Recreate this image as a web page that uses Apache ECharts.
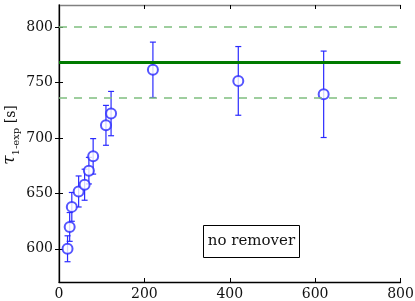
<!DOCTYPE html>
<html>
<head>
<meta charset="utf-8">
<script src="https://cdn.jsdelivr.net/npm/echarts@6/dist/echarts.min.js"></script>
<style>html,body{margin:0;padding:0;background:#fff}#c{width:415px;height:301px}</style>
</head>
<body>
<div id="c"></div>
<script>
// Data
const xVals = [20, 25, 30, 46, 60, 70, 80, 110, 122, 220, 420, 620];
const yVals = [600, 619.7, 637.8, 651.7, 657.8, 670.5, 683.4, 711.4, 722, 761.5, 751.5, 739.4];
const yErr  = [11.7, 13, 13, 14, 14, 12, 16, 18, 20, 25, 31, 39];
const meanVal = 768.5;
const meanBand = 32;
const xTicks = [0, 200, 400, 600, 800];
const yTicks = [600, 650, 700, 750, 800];
const boxLabel = 'no remover';
const yTitleParts = ['τ', '1-exp', ' [s]'];

const font = 'DejaVu Serif';
const blue = '#2b2bff';
const pts = xVals.map((x, i) => [x, yVals[i], yErr[i]]);

// measure title pieces to lay them out along the rotated baseline
const mctx = document.createElement('canvas').getContext('2d');
const partFonts = ['italic 17px "DejaVu Serif"', '10px "DejaVu Serif"', '14px "DejaVu Serif"'];
const partSizes = [17, 10, 14];
const partStyles = ['italic', 'normal', 'normal'];
const partDy = [0, 3, 0];
const widths = yTitleParts.map((t, i) => { mctx.font = partFonts[i]; return mctx.measureText(t).width; });
const totalW = widths.reduce((a, b) => a + b, 0);
let acc = -totalW / 2;
const titleChildren = yTitleParts.map((t, i) => {
  const el = {
    type: 'text', x: acc, y: 6 + partDy[i],
    style: {text: t, fontFamily: font, fontStyle: partStyles[i], fontSize: partSizes[i], fill: '#111', align: 'left', verticalAlign: 'bottom'}
  };
  acc += widths[i];
  return el;
});

const chart = echarts.init(document.getElementById('c'), null, {renderer: 'canvas'});
chart.setOption({
  animation: false,
  backgroundColor: '#fff',
  grid: {left: 59, right: 14.5, top: 5, bottom: 19, containLabel: false, outerBoundsMode: 'none'},
  xAxis: [{
    type: 'value', min: 0, max: 800, interval: 200, position: 'bottom',
    axisLine: {show: true, lineStyle: {color: '#000', width: 1.3}},
    axisTick: {show: true, inside: true, length: 4, lineStyle: {color: '#000'}},
    axisLabel: {fontFamily: font, fontSize: 14, color: '#111', margin: 5, customValues: xTicks},
    splitLine: {show: false}
  }, {
    type: 'value', min: 0, max: 800, interval: 200, position: 'top',
    axisLine: {show: true, lineStyle: {color: '#808080', width: 1.3}},
    axisTick: {show: true, inside: true, length: 4, lineStyle: {color: '#000'}},
    axisLabel: {show: false},
    splitLine: {show: false}
  }],
  yAxis: [{
    type: 'value', min: 570, max: 820, position: 'left',
    axisLine: {show: true, lineStyle: {color: '#808080', width: 1.5}},
    axisTick: {show: true, inside: true, length: 4, customValues: yTicks, lineStyle: {color: '#000'}},
    axisLabel: {fontFamily: font, fontSize: 14, color: '#111', margin: 6, customValues: yTicks},
    splitLine: {show: false}
  }, {
    type: 'value', min: 570, max: 820, position: 'right',
    axisLine: {show: true, lineStyle: {color: '#000', width: 1.3}},
    axisTick: {show: true, inside: true, length: 4, customValues: yTicks, lineStyle: {color: '#000'}},
    axisLabel: {show: false},
    splitLine: {show: false}
  }],
  series: [{
    type: 'custom',
    xAxisIndex: 0, yAxisIndex: 0,
    data: pts,
    renderItem: function (params, api) {
      const x = api.value(0), y = api.value(1), e = api.value(2);
      const top = api.coord([x, y + e]);
      const bot = api.coord([x, y - e]);
      const cw = 3;
      const st = {stroke: blue, lineWidth: 1.2};
      return {type: 'group', children: [
        {type: 'line', shape: {x1: top[0], y1: top[1], x2: bot[0], y2: bot[1]}, style: st},
        {type: 'line', shape: {x1: top[0] - cw, y1: top[1], x2: top[0] + cw, y2: top[1]}, style: st},
        {type: 'line', shape: {x1: bot[0] - cw, y1: bot[1], x2: bot[0] + cw, y2: bot[1]}, style: st}
      ]};
    },
    z: 3
  }, {
    type: 'scatter',
    xAxisIndex: 0, yAxisIndex: 0,
    data: pts.map(p => [p[0], p[1]]),
    symbol: 'emptyCircle', symbolSize: 10,
    itemStyle: {color: blue, borderColor: blue, borderWidth: 1.2},
    z: 4,
    markLine: {
      silent: true, symbol: 'none', label: {show: false},
      data: [
        {yAxis: meanVal, lineStyle: {color: '#007a00', width: 3, type: 'solid'}},
        {yAxis: meanVal + meanBand, lineStyle: {color: '#7fbf7f', width: 1.5, type: [8, 7]}},
        {yAxis: meanVal - meanBand, lineStyle: {color: '#7fbf7f', width: 1.5, type: [8, 7]}}
      ]
    }
  }],
  graphic: {
    elements: [{
      type: 'group', id: 'ytitle', x: 12, y: 135, rotation: Math.PI / 2,
      children: titleChildren
    }, {
      type: 'group', left: 203, top: 225,
      children: [
        {type: 'rect', shape: {x: 0, y: 0, width: 96, height: 32}, style: {fill: '#fff', stroke: '#000', lineWidth: 1}},
        {type: 'text', x: 48, y: 16, style: {text: boxLabel, fontFamily: font, fontSize: 15, fill: '#111', align: 'center', verticalAlign: 'middle'}}
      ]
    }]
  }
});
</script>
</body>
</html>
